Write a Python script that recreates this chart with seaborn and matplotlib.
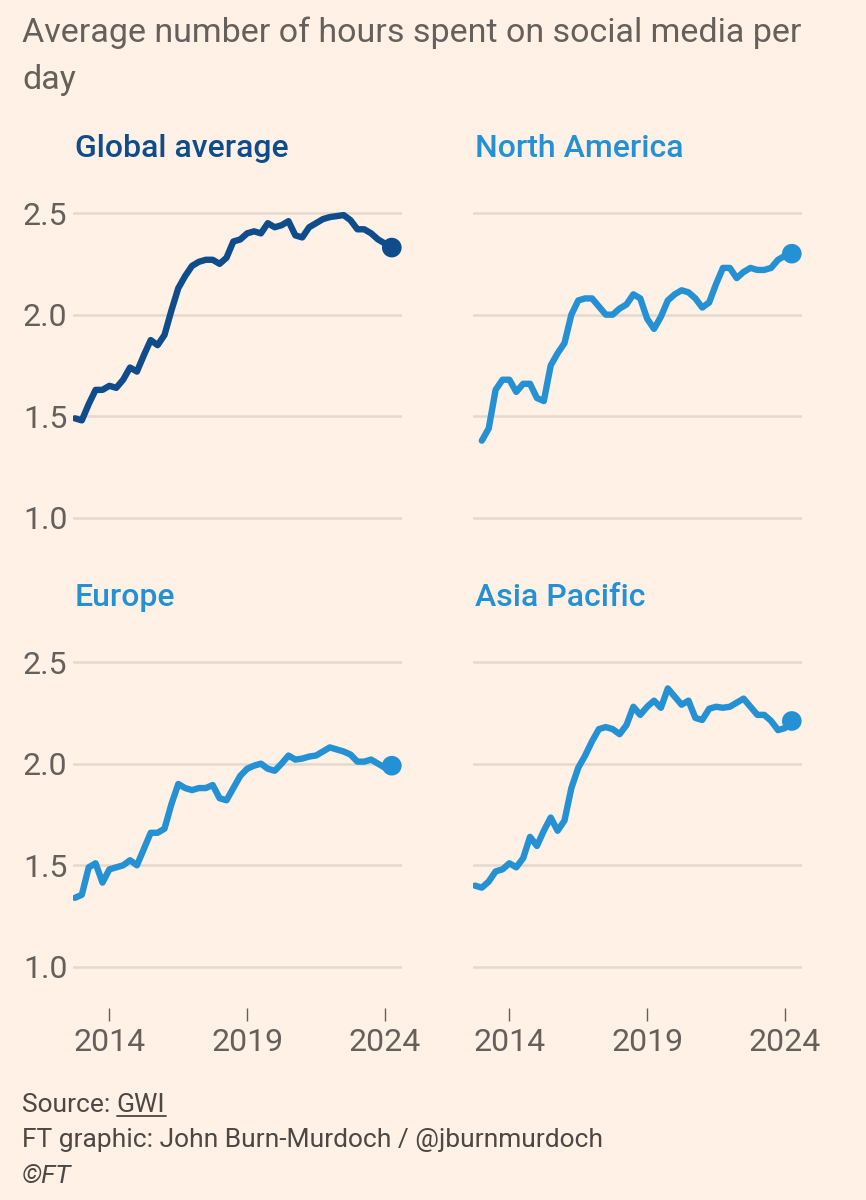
import numpy as np
import pandas as pd
import seaborn as sns
from matplotlib import pyplot as plt
from matplotlib.lines import Line2D

# quarterly readings, Q4 2012 .. Q2 2024
quarters = 2012.75 + 0.25 * np.arange(47)

global_avg = [1.49, 1.48, 1.56, 1.63, 1.63, 1.65, 1.64, 1.68, 1.74, 1.72,
              1.80, 1.875, 1.85, 1.90, 2.02, 2.13, 2.19, 2.24, 2.26, 2.27,
              2.27, 2.25, 2.28, 2.36, 2.37, 2.40, 2.41, 2.40, 2.45, 2.43,
              2.44, 2.46, 2.39, 2.38, 2.43, 2.45, 2.47, 2.48, 2.485, 2.49,
              2.465, 2.42, 2.42, 2.40, 2.37, 2.35, 2.33]

north_america = [np.nan, 1.38, 1.44, 1.63, 1.68, 1.68, 1.62, 1.66, 1.66, 1.59,
                 1.575, 1.75, 1.81, 1.86, 2.00, 2.07, 2.08, 2.08, 2.04, 2.00,
                 2.00, 2.03, 2.05, 2.10, 2.08, 1.98, 1.93, 1.99, 2.07, 2.10,
                 2.12, 2.11, 2.08, 2.035, 2.06, 2.15, 2.23, 2.23, 2.18, 2.21,
                 2.23, 2.22, 2.22, 2.23, 2.27, 2.29, 2.30]

europe = [1.34, 1.355, 1.49, 1.51, 1.415, 1.48, 1.49, 1.50, 1.525, 1.50,
          1.58, 1.66, 1.66, 1.68, 1.80, 1.90, 1.88, 1.87, 1.88, 1.88,
          1.895, 1.83, 1.82, 1.88, 1.94, 1.975, 1.99, 2.00, 1.975, 1.965,
          2.00, 2.04, 2.02, 2.025, 2.035, 2.04, 2.06, 2.08, 2.07, 2.06,
          2.045, 2.01, 2.01, 2.02, 2.00, 1.98, 1.99]

asia_pacific = [1.40, 1.39, 1.42, 1.47, 1.48, 1.51, 1.49, 1.535, 1.64, 1.595,
                1.67, 1.735, 1.67, 1.72, 1.88, 1.98, 2.04, 2.11, 2.17, 2.18,
                2.17, 2.145, 2.19, 2.28, 2.24, 2.28, 2.31, 2.275, 2.37, 2.33,
                2.29, 2.31, 2.225, 2.215, 2.27, 2.28, 2.275, 2.28, 2.30, 2.32,
                2.28, 2.24, 2.24, 2.21, 2.165, 2.175, 2.21]

regions = ["Global average", "North America", "Europe", "Asia Pacific"]
series = [global_avg, north_america, europe, asia_pacific]
x_ticks = [2014, 2019, 2024]
y_ticks = [1.0, 1.5, 2.0, 2.5]

dark_blue = "#0f4c8c"
light_blue = "#2591d5"
colours = [dark_blue, light_blue, light_blue, light_blue]
bg = "#fff1e5"
grey = "#66605c"

df = pd.DataFrame({"quarter": np.tile(quarters, 4),
                   "region": np.repeat(regions, len(quarters)),
                   "hours": np.concatenate(series)})

sns.set_theme(style="white")
plt.rcParams["font.family"] = ["Roboto", "DejaVu Sans"]

fig = plt.figure(figsize=(8.66, 12), dpi=100, facecolor=bg)

W, H = 866, 1200
boxes = [(73, 558.6), (473, 558.6), (73, 1007.6), (473, 1007.6)]

for k, (region, col) in enumerate(zip(regions, colours)):
    x0, ybot = boxes[k]
    ax = fig.add_axes([x0 / W, 1 - ybot / H, 329 / W, 365.9 / H])
    ax.set_facecolor(bg)
    sub = df[df.region == region].dropna()
    for y in y_ticks:
        ax.axhline(y, color="#e5d8cd", lw=1.8, zorder=0)
    sns.lineplot(data=sub, x="quarter", y="hours", color=col, lw=4.6,
                 ax=ax, zorder=3)
    last = sub.iloc[[-1]]
    sns.scatterplot(data=last, x="quarter", y="hours", color=col, s=200,
                    edgecolor="none", ax=ax, zorder=4)
    ax.set_xlim(2012.68, 2024.62)
    ax.set_ylim(0.8, 2.6)
    ax.set_xlabel("")
    ax.set_ylabel("")
    sns.despine(ax=ax, left=True, bottom=True)
    ax.set_yticks(y_ticks)
    if k % 2 == 0:
        ax.set_yticklabels([f"{v:.1f}" for v in y_ticks])
    else:
        ax.set_yticklabels([])
    ax.tick_params(axis="y", length=0, pad=4, labelsize=23, labelcolor=grey)
    ax.set_xticks(x_ticks)
    if k >= 2:
        ax.set_xticklabels([str(v) for v in x_ticks])
        ax.tick_params(axis="x", bottom=True, length=9, width=1, color=grey,
                       pad=6, labelsize=23, labelcolor=grey)
    else:
        ax.set_xticklabels([])
        ax.tick_params(axis="x", length=0)
    tx = x0 + 2
    ty = 157 if k < 2 else 606
    fig.text(tx / W, 1 - ty / H, region, color=col, fontsize=23,
             fontweight="medium", va="baseline")

fig.text(22 / W, 1 - 42 / H, "Average number of hours spent on social media per",
         color=grey, fontsize=24.5, va="baseline")
fig.text(22 / W, 1 - 89 / H, "day", color=grey, fontsize=24.5, va="baseline")

foot = "#4d4845"
src = fig.text(22 / W, 1 - 1112 / H, "Source: ", color=foot, fontsize=19,
               va="baseline")
fig.canvas.draw()
bb = src.get_window_extent()
gwi = fig.text(bb.x1 / W, 1 - 1112 / H, "GWI", color=foot, fontsize=19,
               va="baseline")
fig.canvas.draw()
gb = gwi.get_window_extent()
fig.add_artist(Line2D([gb.x0 / W, gb.x1 / W], [1 - 1116 / H, 1 - 1116 / H],
                      color=foot, lw=1.3))
fig.text(22 / W, 1 - 1147 / H, "FT graphic: John Burn-Murdoch / @jburnmurdoch",
         color=foot, fontsize=19, va="baseline")
fig.text(22 / W, 1 - 1183 / H, "©FT", color=foot, fontsize=19,
         va="baseline", style="italic")

fig.savefig("out.png", dpi=100, facecolor=bg)
